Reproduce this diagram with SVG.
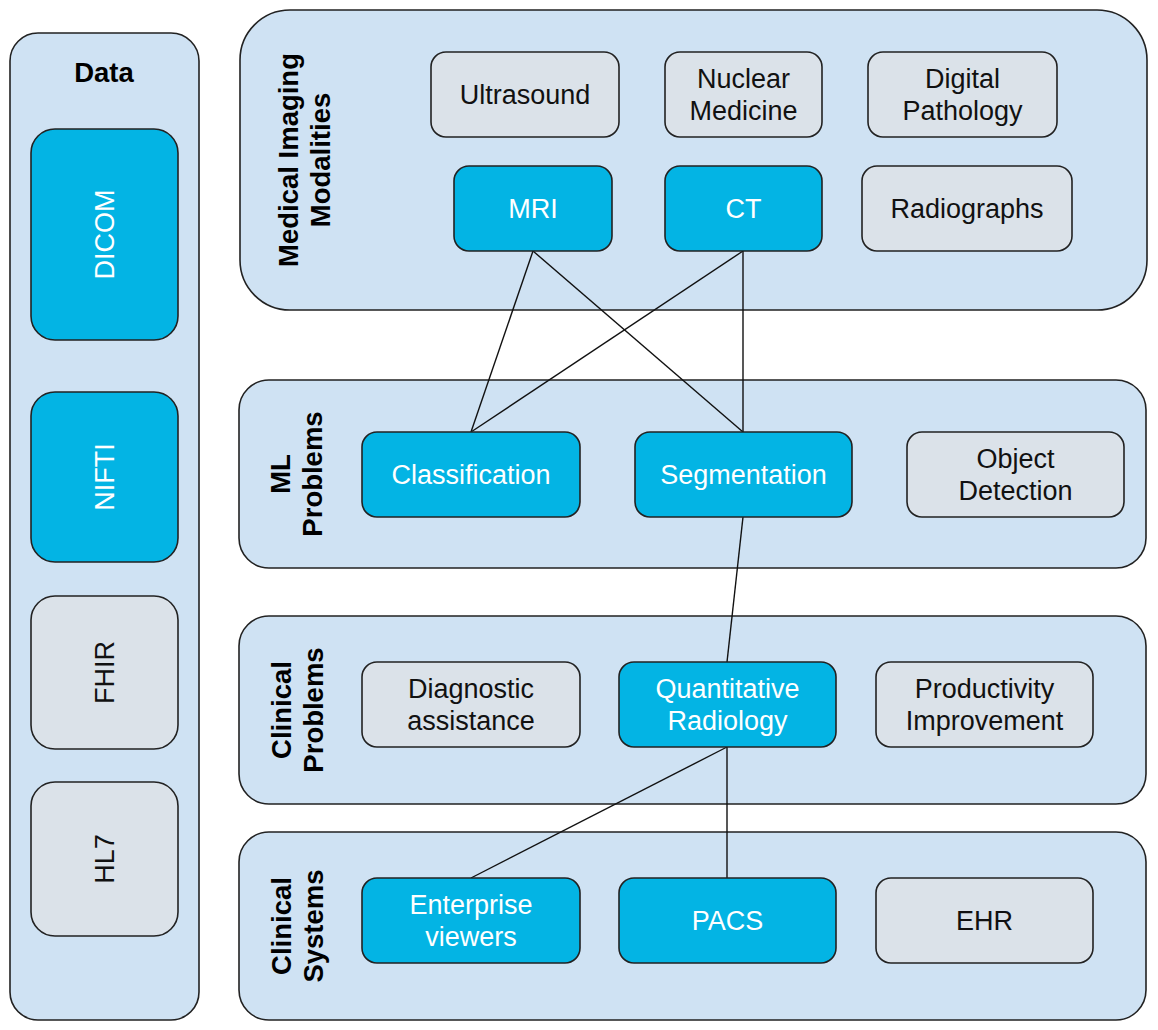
<svg xmlns="http://www.w3.org/2000/svg" width="1158" height="1030" viewBox="0 0 1158 1030">
  <style>
    .panel { fill: #cfe2f3; stroke: #222; stroke-width: 1.6; }
    .hot { fill: #03b4e4; stroke: #222; stroke-width: 1.6; }
    .cold { fill: #dbe2e9; stroke: #222; stroke-width: 1.6; }
    text { font-family: "Liberation Sans", Arial, sans-serif; font-size: 27px; text-anchor: middle; }
    .lbl { font-weight: bold; font-size: 27.5px; fill: #000; }
    .w { fill: #ffffff; }
    .k { fill: #111111; }
    .edge { stroke: #111; stroke-width: 1.4; fill: none; }
  </style>
  <rect width="1158" height="1030" fill="#ffffff"/>

  <!-- Data column -->
  <g id="data">
    <rect class="panel" x="10" y="33" width="189" height="987" rx="28"/>
    <text class="lbl" x="104" y="82">Data</text>
  </g>
  <g id="dicom">
    <rect class="hot" x="31" y="129" width="147" height="211" rx="24"/>
    <text class="w" transform="translate(114,234.5) rotate(-90)">DICOM</text>
  </g>
  <g id="nifti">
    <rect class="hot" x="31" y="392" width="147" height="170" rx="24"/>
    <text class="w" transform="translate(114,477) rotate(-90)">NIFTI</text>
  </g>
  <g id="fhir">
    <rect class="cold" x="31" y="596" width="147" height="153" rx="24"/>
    <text class="k" transform="translate(114,672.5) rotate(-90)">FHIR</text>
  </g>
  <g id="hl7">
    <rect class="cold" x="31" y="782" width="147" height="154" rx="24"/>
    <text class="k" transform="translate(114,859) rotate(-90)">HL7</text>
  </g>

  <!-- Layer panels -->
  <g id="modalities">
    <rect class="panel" x="240" y="10" width="907" height="300" rx="50"/>
    <text class="lbl" transform="translate(298,160) rotate(-90)"><tspan x="0" y="0">Medical Imaging</tspan><tspan x="0" y="32">Modalities</tspan></text>
  </g>
  <g id="ml-problems">
    <rect class="panel" x="239" y="380" width="907" height="188" rx="30"/>
    <text class="lbl" transform="translate(290,474) rotate(-90)"><tspan x="0" y="0">ML</tspan><tspan x="0" y="32">Problems</tspan></text>
  </g>
  <g id="clinical-problems">
    <rect class="panel" x="239" y="616" width="907" height="188" rx="30"/>
    <text class="lbl" transform="translate(291,710) rotate(-90)"><tspan x="0" y="0">Clinical</tspan><tspan x="0" y="32">Problems</tspan></text>
  </g>
  <g id="clinical-systems">
    <rect class="panel" x="239" y="832" width="907" height="188" rx="30"/>
    <text class="lbl" transform="translate(291,926) rotate(-90)"><tspan x="0" y="0">Clinical</tspan><tspan x="0" y="32">Systems</tspan></text>
  </g>

  <!-- Connectors -->
  <g id="connectors">
    <line class="edge" x1="533" y1="251" x2="471" y2="432"/>
    <line class="edge" x1="533" y1="251" x2="743" y2="432"/>
    <line class="edge" x1="743" y1="251" x2="471" y2="432"/>
    <line class="edge" x1="743" y1="251" x2="743" y2="432"/>
    <line class="edge" x1="743" y1="517" x2="727" y2="662"/>
    <line class="edge" x1="727" y1="747" x2="471" y2="878"/>
    <line class="edge" x1="727" y1="747" x2="727" y2="878"/>
  </g>

  <!-- Imaging modalities -->
  <g id="ultrasound">
    <rect class="cold" x="431" y="52" width="188" height="85" rx="15"/>
    <text class="k" x="525" y="104">Ultrasound</text>
  </g>
  <g id="nuclear-medicine">
    <rect class="cold" x="665" y="52" width="157" height="85" rx="15"/>
    <text class="k"><tspan x="743.5" y="88">Nuclear</tspan><tspan x="743.5" y="120">Medicine</tspan></text>
  </g>
  <g id="digital-pathology">
    <rect class="cold" x="868" y="52" width="189" height="85" rx="15"/>
    <text class="k"><tspan x="962.5" y="88">Digital</tspan><tspan x="962.5" y="120">Pathology</tspan></text>
  </g>
  <g id="mri">
    <rect class="hot" x="454" y="166" width="158" height="85" rx="15"/>
    <text class="w" x="533" y="218">MRI</text>
  </g>
  <g id="ct">
    <rect class="hot" x="665" y="166" width="157" height="85" rx="15"/>
    <text class="w" x="743.5" y="218">CT</text>
  </g>
  <g id="radiographs">
    <rect class="cold" x="862" y="166" width="210" height="85" rx="15"/>
    <text class="k" x="967" y="218">Radiographs</text>
  </g>

  <!-- ML problems -->
  <g id="classification">
    <rect class="hot" x="362" y="432" width="218" height="85" rx="15"/>
    <text class="w" x="471" y="484">Classification</text>
  </g>
  <g id="segmentation">
    <rect class="hot" x="635" y="432" width="217" height="85" rx="15"/>
    <text class="w" x="743.5" y="484">Segmentation</text>
  </g>
  <g id="object-detection">
    <rect class="cold" x="907" y="432" width="217" height="85" rx="15"/>
    <text class="k"><tspan x="1015.5" y="468">Object</tspan><tspan x="1015.5" y="500">Detection</tspan></text>
  </g>

  <!-- Clinical problems -->
  <g id="diagnostic-assistance">
    <rect class="cold" x="362" y="662" width="218" height="85" rx="15"/>
    <text class="k"><tspan x="471" y="698">Diagnostic</tspan><tspan x="471" y="730">assistance</tspan></text>
  </g>
  <g id="quantitative-radiology">
    <rect class="hot" x="619" y="662" width="217" height="85" rx="15"/>
    <text class="w"><tspan x="727.5" y="698">Quantitative</tspan><tspan x="727.5" y="730">Radiology</tspan></text>
  </g>
  <g id="productivity-improvement">
    <rect class="cold" x="876" y="662" width="217" height="85" rx="15"/>
    <text class="k"><tspan x="984.5" y="698">Productivity</tspan><tspan x="984.5" y="730">Improvement</tspan></text>
  </g>

  <!-- Clinical systems -->
  <g id="enterprise-viewers">
    <rect class="hot" x="362" y="878" width="218" height="85" rx="15"/>
    <text class="w"><tspan x="471" y="914">Enterprise</tspan><tspan x="471" y="946">viewers</tspan></text>
  </g>
  <g id="pacs">
    <rect class="hot" x="619" y="878" width="217" height="85" rx="15"/>
    <text class="w" x="727.5" y="930">PACS</text>
  </g>
  <g id="ehr">
    <rect class="cold" x="876" y="878" width="217" height="85" rx="15"/>
    <text class="k" x="984.5" y="930">EHR</text>
  </g>
</svg>
